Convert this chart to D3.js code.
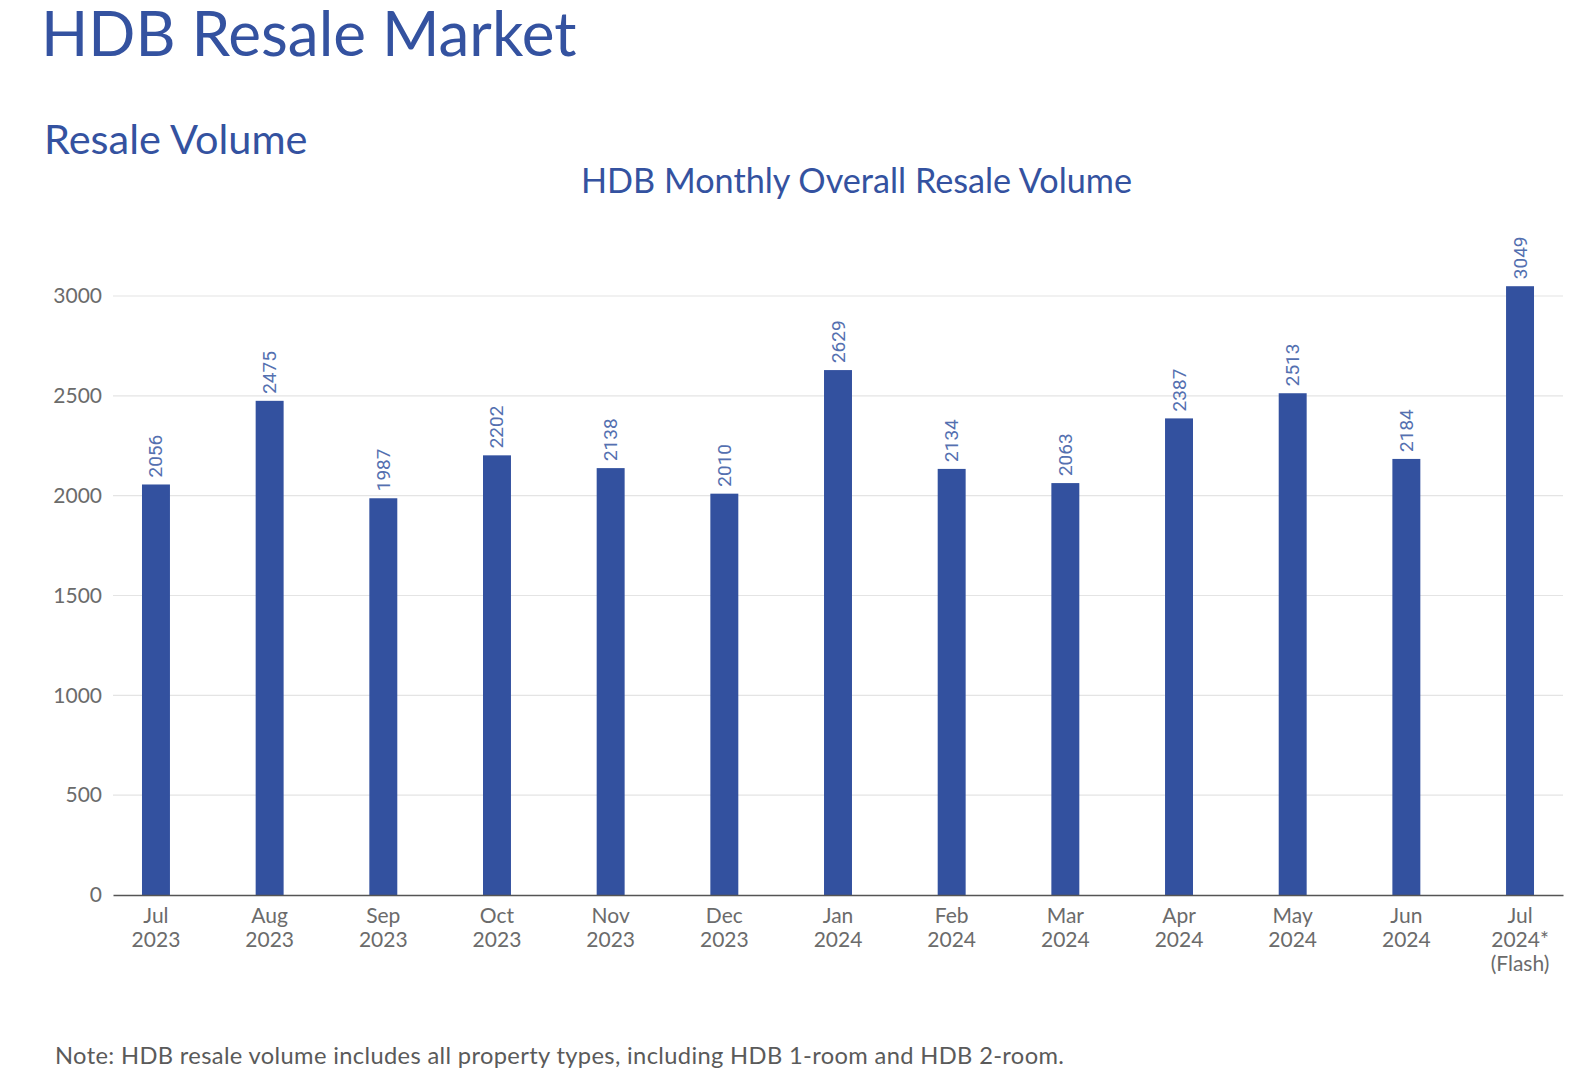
<!DOCTYPE html>
<html>
<head>
<meta charset="utf-8">
<script src="https://cdn.jsdelivr.net/npm/d3@7"></script>
<style>
  html, body { margin: 0; padding: 0; background: #ffffff; }
  svg { display: block; }
</style>
</head>
<body>
<svg id="chart" width="1594" height="1084"></svg>
<script>
const months = ["Jul", "Aug", "Sep", "Oct", "Nov", "Dec", "Jan", "Feb", "Mar", "Apr", "May", "Jun", "Jul"];
const yearLabels = ["2023", "2023", "2023", "2023", "2023", "2023", "2024", "2024", "2024", "2024", "2024", "2024", "2024*"];
const extraLabels = ["", "", "", "", "", "", "", "", "", "", "", "", "(Flash)"];
const volumes = [2056, 2475, 1987, 2202, 2138, 2010, 2629, 2134, 2063, 2387, 2513, 2184, 3049];
const yTicks = [0, 500, 1000, 1500, 2000, 2500, 3000];

const mainTitle = "HDB Resale Market";
const sectionTitle = "Resale Volume";
const chartTitle = "HDB Monthly Overall Resale Volume";
const note = "Note: HDB resale volume includes all property types, including HDB 1-room and HDB 2-room.";

const blue = "#33519f";
const titleBlue = "#3452a0";
const labelBlue = "#5470b0";
const grey = "#6b6b6b";
const headFont = "Lato, 'Open Sans', sans-serif";

const svg = d3.select("#chart");
const ids = months.map((m, i) => i);

const x = d3.scaleBand()
  .domain(ids)
  .range([113, 1563])
  .paddingInner(0.754)
  .paddingOuter(0.255);

const y = d3.scaleLinear().domain([0, 3000]).range([895, 296]);

// Titles
svg.append("text").attr("x", 41).attr("y", 56)
  .attr("fill", titleBlue).style("font-family", headFont)
  .style("font-size", "62px").text(mainTitle);
svg.append("text").attr("x", 44).attr("y", 154)
  .attr("fill", titleBlue).style("font-family", headFont)
  .style("font-size", "41.5px").text(sectionTitle);
svg.append("text").attr("x", 581).attr("y", 193)
  .attr("fill", titleBlue).style("font-family", headFont)
  .style("font-size", "34.2px").text(chartTitle);

// Gridlines
svg.append("g").selectAll("line").data(yTicks.filter(d => d > 0)).join("line")
  .attr("x1", 113).attr("x2", 1563)
  .attr("y1", d => y(d)).attr("y2", d => y(d))
  .attr("stroke", "#e4e4e4").attr("stroke-width", 1.2);

// Y axis labels
const yAxis = d3.axisLeft(y).tickValues(yTicks).tickSize(0).tickPadding(11).tickFormat(d3.format("d"));
const gy = svg.append("g").attr("transform", "translate(113,0)").call(yAxis);
gy.select(".domain").remove();
gy.selectAll("text").attr("fill", grey).style("font-family", headFont).style("font-size", "21px");

// Bars
svg.append("g").selectAll("rect").data(volumes).join("rect")
  .attr("x", (d, i) => x(i))
  .attr("width", x.bandwidth())
  .attr("y", d => y(d))
  .attr("height", d => y(0) - y(d))
  .attr("fill", blue);

// Value labels
svg.append("g").selectAll("text").data(volumes).join("text")
  .attr("transform", (d, i) => `translate(${x(i) + x.bandwidth() / 2 + 6.5},${y(d) - 7}) rotate(-90)`)
  .attr("fill", labelBlue)
  .style("font-family", "Roboto, 'Liberation Sans', sans-serif")
  .style("font-size", "19px")
  .text(d => d);

// X axis baseline
const xAxis = d3.axisBottom(x).tickSize(0).tickFormat(() => "");
const gx = svg.append("g").attr("transform", `translate(0,${y(0)})`).call(xAxis);
gx.select(".domain").attr("stroke", "#555").attr("stroke-width", 1.6);

// X labels
const xl = svg.append("g").selectAll("text").data(ids).join("text")
  .attr("x", i => x(i) + x.bandwidth() / 2)
  .attr("y", 923)
  .attr("text-anchor", "middle")
  .attr("fill", grey)
  .style("font-family", headFont)
  .style("font-size", "21px");
xl.append("tspan").attr("x", i => x(i) + x.bandwidth() / 2).text(i => months[i]);
xl.append("tspan").attr("x", i => x(i) + x.bandwidth() / 2).attr("dy", 24).text(i => yearLabels[i]);
xl.filter(i => extraLabels[i]).append("tspan").attr("x", i => x(i) + x.bandwidth() / 2).attr("dy", 24).text(i => extraLabels[i]);

// Note
svg.append("text").attr("x", 55).attr("y", 1064)
  .attr("fill", "#5a5a5a").style("font-family", headFont)
  .style("font-size", "23.7px").style("letter-spacing", "0.35px").text(note);
</script>
</body>
</html>
